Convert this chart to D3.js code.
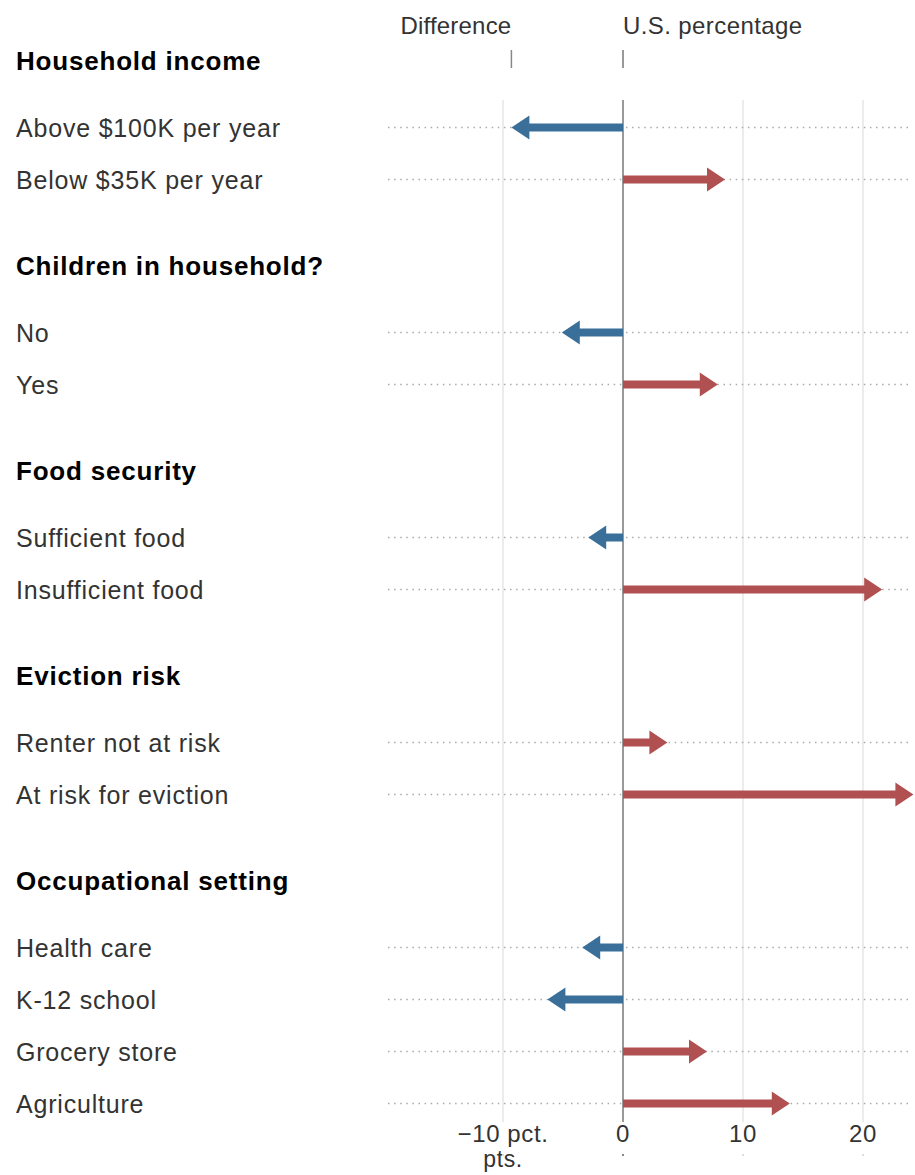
<!DOCTYPE html>
<html>
<head>
<meta charset="utf-8">
<script src="https://cdn.jsdelivr.net/npm/d3@7"></script>
<style>
  html, body { margin: 0; padding: 0; background: #fff; }
  svg { display: block; font-family: "Liberation Sans", Arial, sans-serif; }
</style>
</head>
<body>
<svg id="chart" width="915" height="1175"></svg>
<script>
// ---- data ----
const groups = ["Household income", "Children in household?", "Food security", "Eviction risk", "Occupational setting"];
const categories = [
  "Above $100K per year", "Below $35K per year",
  "No", "Yes",
  "Sufficient food", "Insufficient food",
  "Renter not at risk", "At risk for eviction",
  "Health care", "K-12 school", "Grocery store", "Agriculture"
];
const categoryGroup = [0, 0, 1, 1, 2, 2, 3, 3, 4, 4, 4, 4];
const differences = [-9.3, 8.5, -5.1, 7.9, -2.9, 21.6, 3.7, 24.2, -3.4, -6.3, 7.0, 13.9];
const tickValues = [-10, 0, 10, 20];
const tickLabels = ["\u221210 pct.", "0", "10", "20"];

// ---- layout ----
const svg = d3.select("#chart");
const x = d3.scaleLinear().domain([-10, 20]).range([503, 863]);
const blue = "#3a6f99", red = "#b05050";

const headerY = [], rowY = [];
let y = 61;
groups.forEach((g, gi) => {
  headerY.push(y);
  y += 66.5;
  categories.forEach((c, i) => {
    if (categoryGroup[i] === gi) { rowY[i] = y; y += 52; }
  });
  y += 86.5 - 52;
});

const yTop = 100, yBottom = 1122;

// gridlines
svg.append("g").selectAll("line").data(tickValues.filter(d => d !== 0)).join("line")
  .attr("x1", d => x(d)).attr("x2", d => x(d))
  .attr("y1", yTop).attr("y2", yBottom)
  .attr("stroke", "#e6e6e3").attr("stroke-width", 1.5);

// dotted row lines
svg.append("g").selectAll("line").data(categories).join("line")
  .attr("x1", 388).attr("x2", 912)
  .attr("y1", (d, i) => rowY[i]).attr("y2", (d, i) => rowY[i])
  .attr("stroke", "#aaa").attr("stroke-width", 1.5)
  .attr("stroke-dasharray", "1.5,4.6");

// zero line
svg.append("line")
  .attr("x1", x(0)).attr("x2", x(0)).attr("y1", yTop).attr("y2", yBottom)
  .attr("stroke", "#999").attr("stroke-width", 2);

// top annotation ticks
svg.append("line").attr("x1", x(differences[0])).attr("x2", x(differences[0]))
  .attr("y1", 50).attr("y2", 68).attr("stroke", "#888").attr("stroke-width", 1.5);
svg.append("line").attr("x1", x(0)).attr("x2", x(0))
  .attr("y1", 50).attr("y2", 68).attr("stroke", "#999").attr("stroke-width", 2);
svg.append("text").attr("x", x(differences[0])).attr("y", 34)
  .attr("text-anchor", "end").attr("font-size", 24).attr("letter-spacing", 0.2)
  .attr("fill", "#333").text("Difference");
svg.append("text").attr("x", x(0)).attr("y", 34)
  .attr("text-anchor", "start").attr("font-size", 24).attr("letter-spacing", 0.4)
  .attr("fill", "#333").text("U.S. percentage");

// arrows
const shaft = 8, headLen = 18, headHalf = 12;
svg.append("g").selectAll("path").data(differences).join("path")
  .attr("d", (d, i) => {
    const x0 = x(0), x1 = x(d), yy = rowY[i];
    const s = d >= 0 ? 1 : -1;
    const xb = x1 - s * headLen;
    return `M${x0},${yy - shaft / 2}L${xb},${yy - shaft / 2}L${xb},${yy - headHalf}L${x1},${yy}` +
           `L${xb},${yy + headHalf}L${xb},${yy + shaft / 2}L${x0},${yy + shaft / 2}Z`;
  })
  .attr("fill", d => d >= 0 ? red : blue);

// headers
svg.append("g").selectAll("text").data(groups).join("text")
  .attr("x", 16).attr("y", (d, i) => headerY[i] + 9)
  .attr("font-size", 26).attr("font-weight", "bold").attr("letter-spacing", 0.8).attr("fill", "#000")
  .text(d => d);

// row labels
svg.append("g").selectAll("text").data(categories).join("text")
  .attr("x", 16).attr("y", (d, i) => rowY[i] + 9)
  .attr("font-size", 25).attr("letter-spacing", 0.8).attr("fill", "#333")
  .text(d => d);

// bottom axis labels
const ax = svg.append("g");
ax.selectAll("text.tick").data(tickValues).join("text")
  .attr("class", "tick")
  .attr("x", d => x(d))
  .attr("y", 1142)
  .attr("text-anchor", "middle")
  .attr("font-size", 24).attr("letter-spacing", 0.6).attr("fill", "#333")
  .text((d, i) => tickLabels[i]);
ax.append("text").attr("x", x(-10)).attr("y", 1167).attr("text-anchor", "middle")
  .attr("font-size", 23).attr("letter-spacing", 0.6).attr("fill", "#333").text("pts.");
ax.selectAll("rect").data(tickValues).join("rect")
  .attr("x", d => x(d) - 1).attr("y", 1154).attr("width", 2).attr("height", 2)
  .attr("fill", d => d === 0 ? "#888" : "#ddd");
</script>
</body>
</html>
